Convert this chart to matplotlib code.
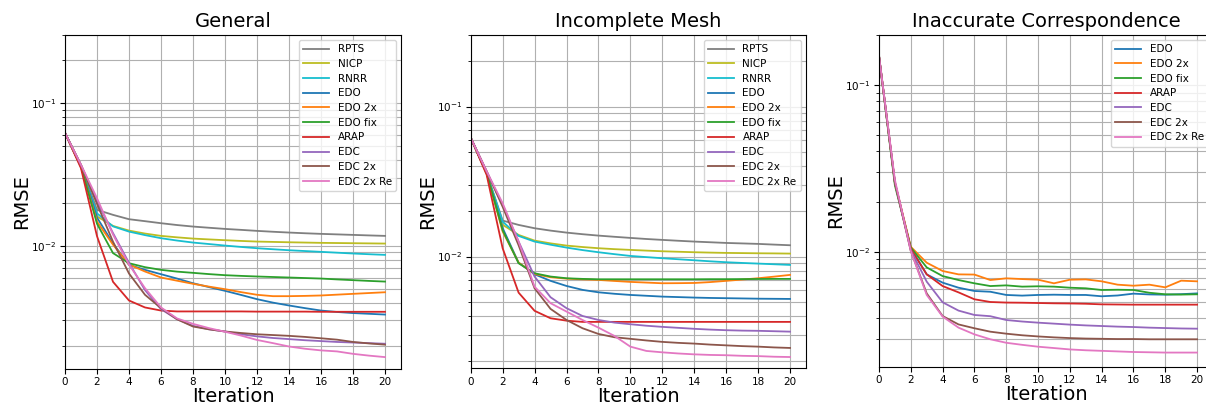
import matplotlib
matplotlib.use('Agg')
import matplotlib.pyplot as plt

iters = list(range(21))

# General
gen_rpts = [0.062, 0.036, 0.0179, 0.0165, 0.01538, 0.0149, 0.01442, 0.014, 0.01366, 0.0134, 0.01315,
            0.01295, 0.01274, 0.01256, 0.0124, 0.01226, 0.01214, 0.01204, 0.01194, 0.01184, 0.01175]
gen_nicp = [0.062, 0.036, 0.0161, 0.0138, 0.0128, 0.0122, 0.01175, 0.01148, 0.01125, 0.0111, 0.01096,
            0.01083, 0.01072, 0.01066, 0.0106, 0.01055, 0.0105, 0.01047, 0.01044, 0.01041, 0.01038]
gen_rnrr = [0.062, 0.036, 0.0169, 0.0137, 0.01259, 0.0119, 0.01132, 0.0109, 0.01055, 0.0103, 0.01005,
            0.00983, 0.00963, 0.00947, 0.00932, 0.0092, 0.00908, 0.00896, 0.00884, 0.00874, 0.00865]
gen_edo = [0.062, 0.036, 0.0158, 0.0104, 0.00736, 0.00679, 0.00633, 0.0059, 0.00547, 0.00514, 0.00484,
           0.00453, 0.00423, 0.004, 0.00382, 0.00366, 0.00352, 0.00344, 0.00338, 0.00334, 0.0033]
gen_edo2x = [0.062, 0.036, 0.0148, 0.0102, 0.0074, 0.00661, 0.006, 0.0057, 0.00542, 0.00518, 0.00497,
             0.00474, 0.00454, 0.00444, 0.00444, 0.00446, 0.00449, 0.00455, 0.00461, 0.00467, 0.00473]
gen_edofix = [0.062, 0.036, 0.0143, 0.0089, 0.00756, 0.00709, 0.00679, 0.0066, 0.00647, 0.00634, 0.00623,
              0.00616, 0.0061, 0.00605, 0.006, 0.00595, 0.0059, 0.00582, 0.00575, 0.00568, 0.00562]
gen_arap = [0.062, 0.035, 0.0117, 0.0056, 0.00414, 0.0037, 0.00352, 0.00347, 0.00347, 0.00347, 0.00347,
            0.00347, 0.00346, 0.00346, 0.00346, 0.00346, 0.00345, 0.00345, 0.00345, 0.00345, 0.00345]
gen_edc = [0.062, 0.037, 0.0205, 0.0123, 0.0076, 0.0049, 0.0036, 0.00306, 0.00275, 0.0026, 0.00251,
           0.0024, 0.00232, 0.00226, 0.00222, 0.00218, 0.00215, 0.00212, 0.0021, 0.00208, 0.00206]
gen_edc2x = [0.062, 0.037, 0.0197, 0.0107, 0.0064, 0.00454, 0.00366, 0.00306, 0.00272, 0.0026, 0.00251,
             0.00245, 0.0024, 0.00237, 0.00234, 0.0023, 0.00225, 0.0022, 0.00212, 0.00207, 0.00203]
gen_edc2xre = [0.062, 0.037, 0.0216, 0.012, 0.0074, 0.00505, 0.0037, 0.0031, 0.00284, 0.00265, 0.0025,
               0.00235, 0.00219, 0.00208, 0.00197, 0.0019, 0.00185, 0.00182, 0.00175, 0.0017, 0.00166]

# Incomplete Mesh
inc_rpts = [0.062, 0.036, 0.01738, 0.01626, 0.01545, 0.0149, 0.01445, 0.0141, 0.0138, 0.01355, 0.01332,
            0.0131, 0.01292, 0.01275, 0.01259, 0.01246, 0.01233, 0.01224, 0.01215, 0.01202, 0.0119]
inc_nicp = [0.062, 0.036, 0.0163, 0.01394, 0.01278, 0.01225, 0.01184, 0.01158, 0.01137, 0.01121, 0.01108,
            0.01096, 0.01085, 0.01077, 0.01069, 0.01063, 0.01058, 0.01055, 0.01052, 0.0105, 0.01047]
inc_rnrr = [0.062, 0.036, 0.0171, 0.01373, 0.01259, 0.012, 0.01148, 0.01105, 0.01069, 0.01038, 0.0101,
            0.00992, 0.00975, 0.0096, 0.00945, 0.0093, 0.00917, 0.00907, 0.00898, 0.00889, 0.0088]
inc_edo = [0.062, 0.036, 0.0155, 0.0091, 0.00762, 0.00689, 0.00637, 0.006, 0.00578, 0.00565, 0.00555,
           0.00548, 0.00541, 0.00537, 0.00533, 0.0053, 0.00528, 0.00526, 0.00524, 0.00523, 0.00522]
inc_edo2x = [0.062, 0.036, 0.0147, 0.00912, 0.00766, 0.00728, 0.00713, 0.00705, 0.00699, 0.00688, 0.00678,
             0.00671, 0.00664, 0.00665, 0.00667, 0.00676, 0.00689, 0.00703, 0.00717, 0.00735, 0.00755]
inc_edofix = [0.062, 0.036, 0.015, 0.00903, 0.00774, 0.00736, 0.00717, 0.0071, 0.00706, 0.00706, 0.00706,
              0.00706, 0.00706, 0.00706, 0.00706, 0.00707, 0.00707, 0.00708, 0.00709, 0.0071, 0.0071]
inc_arap = [0.062, 0.035, 0.01137, 0.00575, 0.00435, 0.00388, 0.00374, 0.00367, 0.00367, 0.00367, 0.00367,
            0.00367, 0.00367, 0.00367, 0.00367, 0.00367, 0.00367, 0.00367, 0.00367, 0.00367, 0.00367]
inc_edc = [0.062, 0.037, 0.0221, 0.0126, 0.00736, 0.00536, 0.00453, 0.00402, 0.00378, 0.00363, 0.00354,
           0.00346, 0.0034, 0.00335, 0.0033, 0.00326, 0.00323, 0.00321, 0.0032, 0.00318, 0.00316]
inc_edc2x = [0.062, 0.037, 0.0215, 0.0119, 0.00615, 0.00448, 0.00378, 0.00333, 0.00305, 0.0029, 0.00283,
             0.00276, 0.0027, 0.00266, 0.00263, 0.00259, 0.00256, 0.00253, 0.00251, 0.00248, 0.00246]
inc_edc2xre = [0.062, 0.037, 0.0227, 0.0126, 0.0063, 0.00489, 0.0043, 0.00378, 0.00336, 0.00296, 0.00251,
               0.00235, 0.0023, 0.00226, 0.00223, 0.00221, 0.0022, 0.00218, 0.00217, 0.00215, 0.00214]

# Inaccurate Correspondence
acc_edo = [0.15, 0.026, 0.0105, 0.00731, 0.00652, 0.00608, 0.00581, 0.00575, 0.0055, 0.00545, 0.0055,
           0.00552, 0.0055, 0.0055, 0.0054, 0.00546, 0.0056, 0.00554, 0.00552, 0.00556, 0.00562]
acc_edo2x = [0.15, 0.026, 0.0107, 0.00859, 0.00766, 0.00731, 0.00729, 0.00676, 0.00692, 0.00685, 0.00679,
             0.00646, 0.00679, 0.00682, 0.00664, 0.00634, 0.00625, 0.00634, 0.00611, 0.0067, 0.00664]
acc_edofix = [0.15, 0.025, 0.0106, 0.00805, 0.00714, 0.00676, 0.00646, 0.00622, 0.00628, 0.00617, 0.0062,
              0.00617, 0.00608, 0.00603, 0.00589, 0.00591, 0.00589, 0.00567, 0.00555, 0.00553, 0.00555]
acc_arap = [0.15, 0.026, 0.0104, 0.00731, 0.00622, 0.0057, 0.00518, 0.00499, 0.00495, 0.00494, 0.00492,
            0.0049, 0.00489, 0.00487, 0.00483, 0.00482, 0.00481, 0.00481, 0.00481, 0.00481, 0.00481]
acc_edc = [0.15, 0.026, 0.0102, 0.00661, 0.00497, 0.00443, 0.00417, 0.0041, 0.00389, 0.00381, 0.00375,
           0.0037, 0.00365, 0.00361, 0.00358, 0.00355, 0.00353, 0.0035, 0.00348, 0.00346, 0.00345]
acc_edc2x = [0.15, 0.026, 0.0101, 0.00562, 0.00411, 0.00366, 0.00347, 0.00331, 0.00322, 0.00315, 0.0031,
             0.00306, 0.00303, 0.00301, 0.003, 0.00299, 0.00299, 0.00298, 0.00298, 0.00298, 0.00298]
acc_edc2xre = [0.15, 0.027, 0.0101, 0.0055, 0.00408, 0.0035, 0.00319, 0.00298, 0.00284, 0.00276, 0.00269,
               0.00264, 0.00259, 0.00256, 0.00254, 0.00252, 0.0025, 0.00249, 0.00248, 0.00248, 0.00248]

labels_all = ["RPTS", "NICP", "RNRR", "EDO", "EDO 2x", "EDO fix", "ARAP", "EDC", "EDC 2x", "EDC 2x Re"]
colors_all = ["tab:gray", "tab:olive", "tab:cyan", "tab:blue", "tab:orange", "tab:green",
              "tab:red", "tab:purple", "tab:brown", "tab:pink"]

panels = [
    ("General", [gen_rpts, gen_nicp, gen_rnrr, gen_edo, gen_edo2x, gen_edofix,
                 gen_arap, gen_edc, gen_edc2x, gen_edc2xre], labels_all, colors_all,
     (0.00137, 0.301), [65 / 1206, 36 / 405, 336 / 1206, 334 / 405]),
    ("Incomplete Mesh", [inc_rpts, inc_nicp, inc_rnrr, inc_edo, inc_edo2x, inc_edofix,
                         inc_arap, inc_edc, inc_edc2x, inc_edc2xre], labels_all, colors_all,
     (0.0018, 0.30), [470.7 / 1206, 36.7 / 405, 335.3 / 1206, 333.3 / 405]),
    ("Inaccurate Correspondence", [acc_edo, acc_edo2x, acc_edofix, acc_arap, acc_edc,
                                   acc_edc2x, acc_edc2xre], labels_all[3:], colors_all[3:],
     (0.00204, 0.2), [879 / 1206, 38.3 / 405, 334 / 1206, 331.7 / 405]),
]

fig = plt.figure(figsize=(12.06, 4.05), dpi=100)

for title, series, labels, colors, ylim, pos in panels:
    ax = fig.add_axes(pos)
    for vals, lab, col in zip(series, labels, colors):
        ax.plot(iters, vals, color=col, lw=1.3, label=lab)
    ax.set_yscale('log')
    ax.set_xlim(0, 21)
    ax.set_ylim(*ylim)
    ax.set_xticks(range(0, 21, 2))
    ax.grid(True, which='both', color='#b0b0b0', lw=0.8)
    ax.tick_params(labelsize=7.5, pad=2.5)
    ax.set_title(title, fontsize=14)
    ax.set_xlabel("Iteration", fontsize=14, labelpad=0)
    ax.set_ylabel("RMSE", fontsize=14, labelpad=0)
    ax.legend(loc='upper right', fontsize=7.5, labelspacing=0.45, handlelength=2.5)

fig.savefig("out.png", dpi=100)
